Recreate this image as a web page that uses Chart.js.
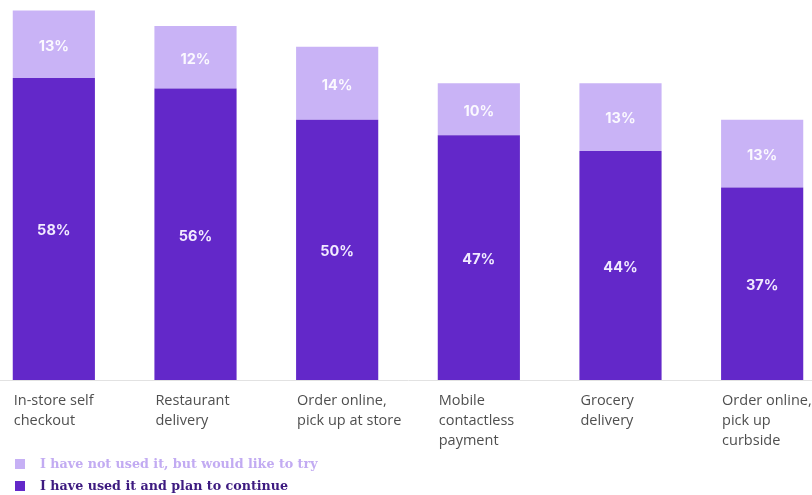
<!DOCTYPE html>
<html>
<head>
<meta charset="utf-8">
<script src="https://cdn.jsdelivr.net/npm/chart.js@4"></script>
<style>
  html, body { margin: 0; padding: 0; background: #fff; overflow: hidden; }
  #wrap { position: relative; width: 812px; height: 495px; }
  #box { position: absolute; left: -17px; top: 0; width: 850px; height: 495px; }
  .legenda { position: absolute; left: 15px; font: bold 12.7px "DejaVu Serif", serif; line-height: 16px; }
  .legenda span { display: inline-block; width: 10px; height: 10px; margin-right: 15px; vertical-align: -1px; }
</style>
</head>
<body>
<div id="wrap">
  <div id="box"><canvas id="grafico"></canvas></div>
  <div class="legenda" style="top:456px;color:#c2abf2"><span style="background:#c6b0f5"></span>I have not used it, but would like to try</div>
  <div class="legenda" style="top:478px;color:#3d1a80"><span style="background:#6328c9"></span>I have used it and plan to continue</div>
</div>
<script>
// Categorias e valores (%)
const categorias = [
  ['In-store self', 'checkout'],
  ['Restaurant', 'delivery'],
  ['Order online,', 'pick up at store'],
  ['Mobile', 'contactless', 'payment'],
  ['Grocery', 'delivery'],
  ['Order online,', 'pick up', 'curbside']
];
const usouContinua = [58, 56, 50, 47, 44, 37];
const querTentar = [13, 12, 14, 10, 13, 13];

const corEscura = '#6328c9';
const corClara = '#c9b3f6';

// Rótulos dentro das barras e nomes das categorias
const rotulosPlugin = {
  id: 'rotulos',
  afterDatasetsDraw(chart) {
    const ctx = chart.ctx;
    ctx.save();
    ctx.textAlign = 'center';
    ctx.textBaseline = 'middle';
    chart.data.datasets.forEach((ds, i) => {
      const meta = chart.getDatasetMeta(i);
      ctx.font = 'bold 14.5px Inter, sans-serif';
      ctx.fillStyle = i === 0 ? '#f1eaff' : 'rgba(255,255,255,0.92)';
      meta.data.forEach((bar, j) => {
        const meio = (bar.y + bar.base) / 2 + 2;
        ctx.fillText(ds.data[j] + '%', bar.x, meio);
      });
    });

    // nomes alinhados à esquerda de cada barra
    const meta0 = chart.getDatasetMeta(0);
    const baseY = chart.scales.y.getPixelForValue(0);
    ctx.textAlign = 'left';
    ctx.textBaseline = 'middle';
    ctx.font = '14.5px "Open Sans", sans-serif';
    ctx.fillStyle = '#4f4f4f';
    meta0.data.forEach((bar, j) => {
      const x = bar.x - bar.width / 2 + 1;
      categorias[j].forEach((linha, k) => {
        ctx.fillText(linha, x, baseY + 21 + k * 20);
      });
    });
    ctx.restore();
  }
};

new Chart(document.getElementById('grafico'), {
  type: 'bar',
  data: {
    labels: categorias.map(c => c.join(' ')),
    datasets: [
      { label: 'I have used it and plan to continue', data: usouContinua, backgroundColor: corEscura },
      { label: 'I have not used it, but would like to try', data: querTentar, backgroundColor: corClara }
    ]
  },
  options: {
    responsive: true,
    maintainAspectRatio: false,
    animation: false,
    layout: { padding: { top: 0, bottom: 107, left: 0, right: 0 } },
    datasets: { bar: { barPercentage: 0.58, categoryPercentage: 1 } },
    plugins: {
      legend: { display: false },
      tooltip: { enabled: false }
    },
    scales: {
      x: {
        stacked: true,
        grid: { display: false },
        border: { display: true, color: '#e2e2e2', width: 1 },
        ticks: { display: false }
      },
      y: {
        stacked: true,
        display: false,
        min: 0,
        max: 73
      }
    }
  },
  plugins: [rotulosPlugin]
});
</script>
</body>
</html>
